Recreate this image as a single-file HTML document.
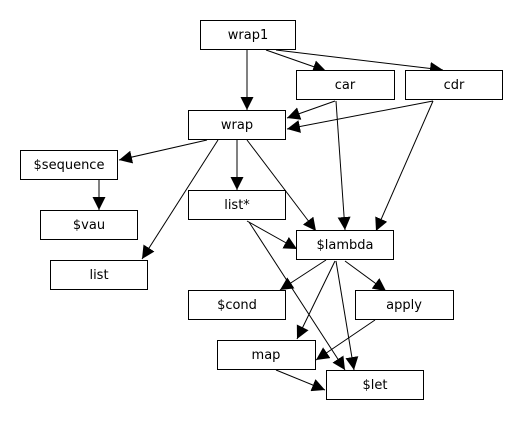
<!DOCTYPE html>
<html><head><style>
html,body{margin:0;padding:0;background:#fff;width:530px;height:430px;overflow:hidden}
svg text{font-family:"DejaVu Sans","Liberation Sans",sans-serif;font-size:13px;fill:#000}
</style></head><body>
<svg width="530" height="430" viewBox="0 0 530 430" xmlns="http://www.w3.org/2000/svg">
<defs>
<marker id="a" markerWidth="13" markerHeight="13" refX="13" refY="6.5" orient="auto" markerUnits="userSpaceOnUse">
<path d="M0,0 L13,6.5 L0,13 z" fill="#000"/>
</marker>
</defs>
<g stroke="#000" stroke-width="1" fill="none" marker-end="url(#a)">
<line x1="247" y1="50" x2="247" y2="110"/>
<line x1="266" y1="50" x2="326" y2="71"/>
<line x1="276" y1="50" x2="443" y2="70"/>
<line x1="335" y1="101" x2="287" y2="118"/>
<line x1="433" y1="101" x2="287" y2="129"/>
<line x1="207" y1="140" x2="119" y2="160"/>
<line x1="237" y1="140" x2="237" y2="190"/>
<line x1="218" y1="140" x2="142" y2="259"/>
<line x1="247" y1="140" x2="316" y2="231"/>
<line x1="336" y1="101" x2="345" y2="230"/>
<line x1="433" y1="101" x2="376" y2="231"/>
<line x1="99" y1="180" x2="99" y2="210"/>
<line x1="247" y1="221" x2="297" y2="249"/>
<line x1="249" y1="222" x2="345" y2="370"/>
<line x1="326" y1="260" x2="280" y2="290"/>
<line x1="345" y1="261" x2="386" y2="291"/>
<line x1="335" y1="261" x2="297" y2="339"/>
<line x1="336" y1="261" x2="354" y2="370"/>
<line x1="375" y1="320" x2="316" y2="360"/>
<line x1="276" y1="370" x2="325" y2="390"/>
</g>
<g stroke="#000" stroke-width="1" fill="#fff">
<rect x="200.5" y="20.5" width="95" height="29"/>
<rect x="296.5" y="70.5" width="98" height="29"/>
<rect x="405.5" y="70.5" width="97" height="29"/>
<rect x="188.5" y="110.5" width="97" height="29"/>
<rect x="20.5" y="150.5" width="97" height="29"/>
<rect x="188.5" y="190.5" width="97" height="29"/>
<rect x="40.5" y="210.5" width="97" height="29"/>
<rect x="296.5" y="230.5" width="97" height="29"/>
<rect x="50.5" y="260.5" width="97" height="29"/>
<rect x="188.5" y="290.5" width="97" height="29"/>
<rect x="355.5" y="290.5" width="98" height="29"/>
<rect x="217.5" y="340.5" width="98" height="29"/>
<rect x="326.5" y="370.5" width="97" height="29"/>
</g>
<g text-anchor="middle">
<text x="248" y="39">wrap1</text>
<text x="345" y="89">car</text>
<text x="454" y="89">cdr</text>
<text x="237" y="129">wrap</text>
<text x="69" y="169">$sequence</text>
<text x="237" y="209">list*</text>
<text x="89" y="229">$vau</text>
<text x="345" y="249">$lambda</text>
<text x="99" y="279">list</text>
<text x="237" y="309">$cond</text>
<text x="404" y="309">apply</text>
<text x="266" y="359">map</text>
<text x="375" y="389">$let</text>
</g>
</svg>
</body></html>
